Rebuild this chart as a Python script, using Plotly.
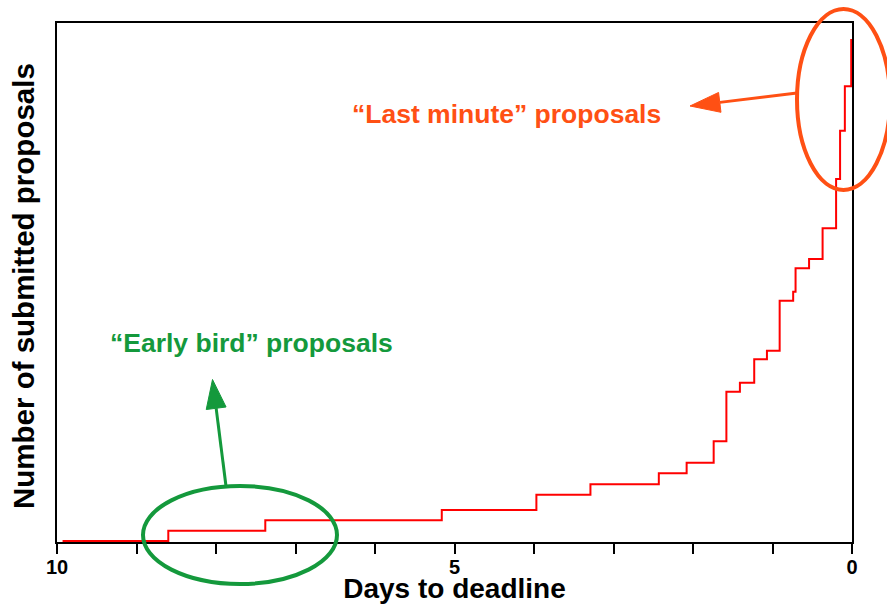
import math
import plotly.graph_objects as go

# ---- data ----
days_to_deadline = [9.93, 8.60, 7.38, 5.16, 3.97, 3.29, 2.43, 2.08, 1.74, 1.58, 1.41,
                    1.23, 1.07, 0.91, 0.74, 0.71, 0.54, 0.37, 0.20, 0.15, 0.09, 0.01]
submitted_count = [0.0, 1.03, 2.07, 3.10, 4.63, 5.67, 6.77, 7.83, 9.97, 14.93, 15.83,
                   18.17, 19.03, 24.03, 24.93, 27.27, 28.20, 31.27, 36.20, 41.03, 45.47, 50.20]
tick_values = [10, 9, 8, 7, 6, 5, 4, 3, 2, 1, 0]
tick_labels = ["10", "", "", "", "", "5", "", "", "", "", "0"]

W, H = 887, 604
ML, MR, MT, MB = 57, 35, 23, 62
PW, PH = W - ML - MR, H - MT - MB

FONT = "Liberation Sans, Arial, sans-serif"
ORANGE = "#FF5014"
GREEN = "#14993C"


def fx(px):
    return (px - ML) / PW


def fy(py):
    return (H - MB - py) / PH


fig = go.Figure()
fig.add_trace(go.Scatter(
    x=days_to_deadline, y=submitted_count, mode="lines",
    line=dict(color="#FF0000", width=2, shape="hv"),
    showlegend=False, hoverinfo="skip", cliponaxis=False,
))

shapes = []
annotations = []


def ellipse(x0, y0, x1, y1, color):
    shapes.append(dict(type="circle", xref="paper", yref="paper",
                       x0=fx(x0), x1=fx(x1), y0=fy(y1), y1=fy(y0),
                       line=dict(color=color, width=4), fillcolor="rgba(0,0,0,0)"))


def arrow(tail, tip, color, head_len=30, head_half=10, width=3):
    dx, dy = tip[0] - tail[0], tip[1] - tail[1]
    n = math.hypot(dx, dy)
    ux, uy = dx / n, dy / n
    bx, by = tip[0] - head_len * ux, tip[1] - head_len * uy
    px_, py_ = -uy, ux
    shapes.append(dict(type="line", xref="paper", yref="paper",
                       x0=fx(tail[0]), y0=fy(tail[1]), x1=fx(bx), y1=fy(by),
                       line=dict(color=color, width=width)))
    pts = [tip, (bx + head_half * px_, by + head_half * py_), (bx - head_half * px_, by - head_half * py_)]
    path = "M " + " L ".join(f"{fx(a):.5f},{fy(b):.5f}" for a, b in pts) + " Z"
    shapes.append(dict(type="path", xref="paper", yref="paper", path=path,
                       fillcolor=color, line=dict(color=color, width=1)))


ellipse(797, 9, 890, 190, ORANGE)
ellipse(143, 486, 337, 584, GREEN)
arrow((797, 93), (690, 106), ORANGE)
arrow((226, 486), (212.5, 379.5), GREEN, head_len=29)

annotations.append(dict(text="“Last minute” proposals", xref="paper", yref="paper",
                        x=fx(506), y=fy(114), xanchor="center", yanchor="middle",
                        showarrow=False,
                        font=dict(family=FONT, size=26.5, color=ORANGE, weight="bold")))
annotations.append(dict(text="“Early bird” proposals", xref="paper", yref="paper",
                        x=fx(251.5), y=fy(343), xanchor="center", yanchor="middle",
                        showarrow=False,
                        font=dict(family=FONT, size=26.5, color=GREEN, weight="bold")))
# y-axis title (placed as a rotated annotation to match the reference position)
annotations.append(dict(text="Number of submitted proposals", xref="paper", yref="paper",
                        x=fx(23), y=fy(286), xanchor="center", yanchor="middle",
                        textangle=-90, showarrow=False,
                        font=dict(family=FONT, size=29.5, color="black", weight="bold")))

fig.update_layout(
    width=W, height=H,
    margin=dict(l=ML, r=MR, t=MT, b=MB, autoexpand=False),
    paper_bgcolor="white", plot_bgcolor="white",
    font=dict(family=FONT, color="black"),
    shapes=shapes, annotations=annotations,
    xaxis=dict(
        range=[10, 0], tickmode="array", tickvals=tick_values, ticktext=tick_labels,
        ticks="outside", ticklen=10, tickwidth=2, tickcolor="black",
        ticklabelstandoff=-4,
        tickfont=dict(family=FONT, size=20, color="black", weight="bold"),
        showline=True, linecolor="black", linewidth=2, mirror=True,
        showgrid=False, zeroline=False, layer="below traces",
        title=dict(text="Days to deadline", standoff=0,
                   font=dict(family=FONT, size=28, color="black", weight="bold")),
    ),
    yaxis=dict(
        range=[-0.1, 51.8], showticklabels=False, ticks="",
        showline=True, linecolor="black", linewidth=2, mirror=True,
        showgrid=False, zeroline=False, layer="below traces",
    ),
)

fig.write_html("out.html", config={"displayModeBar": False},
               post_script="document.body.style.margin='0px';document.body.style.overflow='hidden';")
